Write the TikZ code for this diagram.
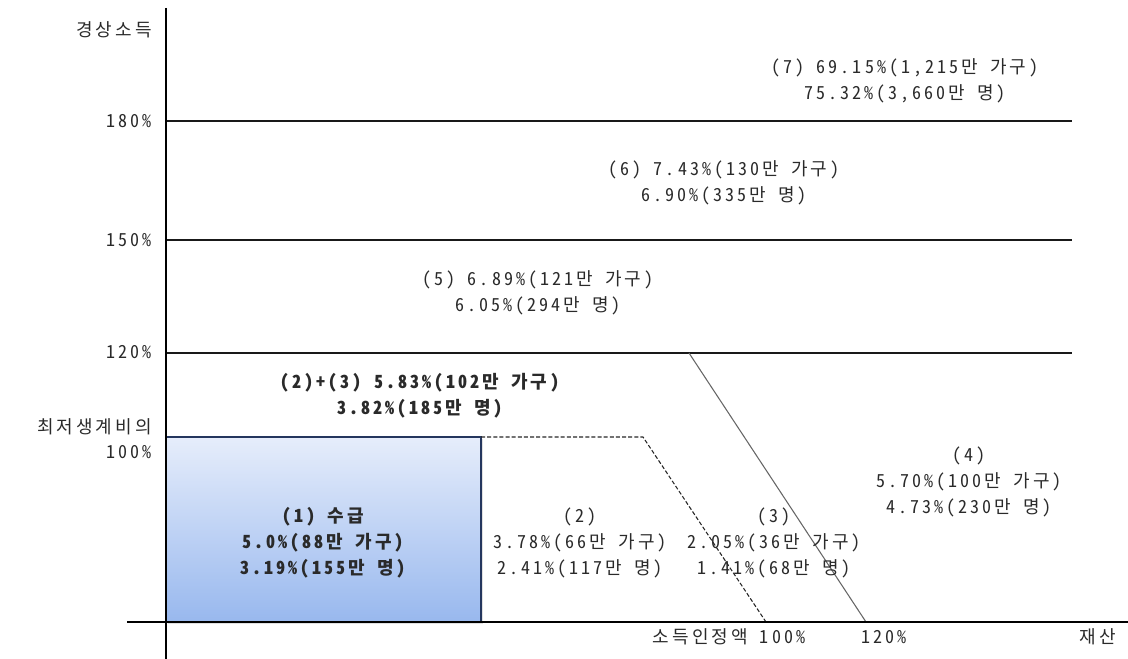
\documentclass[tikz,border=0pt]{standalone}
\usepackage{fontspec}
\usetikzlibrary{calc}
\setmainfont{Noto Sans CJK KR}[CharacterWidth=Half, LetterSpace=17]
\definecolor{txtc}{HTML}{2A2A2A}
\definecolor{boxtop}{HTML}{E6EDFB}
\definecolor{boxbot}{HTML}{98B8EE}
\definecolor{boxedge}{HTML}{24365E}
\definecolor{diagc}{HTML}{666666}
\begin{document}
\begin{tikzpicture}[x=0.75pt,y=-0.75pt,
  lbl/.style={font=\fontsize{13.5}{19.5}\selectfont, text=txtc, align=center, inner sep=0pt},
  boldlbl/.style={lbl, font=\fontsize{13.5}{19.5}\selectfont\bfseries},
  axlbl/.style={lbl, anchor=east},
  axisline/.style={line width=0.9pt, black},
  gridline/.style={line width=0.9pt, black!90},
  dashline/.style={line width=0.8pt, black!85, dash pattern=on 3pt off 1.6pt},
  diagline/.style={line width=0.8pt, diagc},
  boxedgestyle/.style={line width=0.9pt, boxedge}]
\useasboundingbox (0,0) rectangle (1128,659);

% coordinates
\coordinate (xl) at (127,622);
\coordinate (xr) at (1128,622);
\coordinate (yt) at (166,8);
\coordinate (yb) at (166,659);
\coordinate (g180a) at (166,121); \coordinate (g180b) at (1072,121);
\coordinate (g150a) at (166,240); \coordinate (g150b) at (1072,240);
\coordinate (g120a) at (166,353); \coordinate (g120b) at (1072,353);
\coordinate (boxtl) at (166,437);
\coordinate (boxbr) at (481,622);
\coordinate (d0) at (481,437);
\coordinate (d1) at (643,437);
\coordinate (d2) at (766,622);
\coordinate (s1) at (689,353);
\coordinate (s2) at (866,622);

% grid lines
\draw[gridline] (g180a) -- (g180b);
\draw[gridline] (g150a) -- (g150b);
\draw[gridline] (g120a) -- (g120b);

% box with shadow
\fill[black!12] ($(boxtl)+(2,2)$) rectangle ($(boxbr)+(2,2)$);
\shade[top color=boxtop, bottom color=boxbot] (boxtl) rectangle (boxbr);
\draw[boxedgestyle] (boxtl) rectangle (boxbr);

% boundary lines
\draw[dashline] (d0) -- (d1) -- (d2);
\draw[diagline] (s1) -- (s2);

% axes
\draw[axisline] (xl) -- (xr);
\draw[axisline] (yt) -- (yb);

% axis labels
\node[axlbl] (ylab) at (152,30) {경상소득};
\node[axlbl] (y180) at (152,121) {180\%};
\node[axlbl] (y150) at (152,240) {150\%};
\node[axlbl] (y120) at (152,352) {120\%};
\node[axlbl] (ymin) at (152,427) {최저생계비의};
\node[axlbl] (y100) at (152,452) {100\%};
\node[lbl] (x100) at (729,637) {소득인정액 100\%};
\node[lbl] (x120) at (884,637) {120\%};
\node[lbl] (xlab) at (1098,637) {재산};

% region labels
\node[lbl] (r7) at (905,81) {(7) 69.15\%(1,215만 가구)\\75.32\%(3,660만 명)};
\node[lbl] (r6) at (724,183) {(6) 7.43\%(130만 가구)\\6.90\%(335만 명)};
\node[lbl] (r5) at (538,293) {(5) 6.89\%(121만 가구)\\6.05\%(294만 명)};
\node[boldlbl] (r23) at (420,396) {(2)+(3) 5.83\%(102만 가구)\\3.82\%(185만 명)};
\node[boldlbl] (r1) at (323,543) {(1) 수급\\5.0\%(88만 가구)\\3.19\%(155만 명)};
\node[lbl] (r2) at (580,543) {(2)\\3.78\%(66만 가구)\\2.41\%(117만 명)};
\node[lbl] (r3) at (774,543) {(3)\\2.05\%(36만 가구)\\1.41\%(68만 명)};
\node[lbl] (r4) at (969,482) {(4)\\5.70\%(100만 가구)\\4.73\%(230만 명)};
\end{tikzpicture}
\end{document}
